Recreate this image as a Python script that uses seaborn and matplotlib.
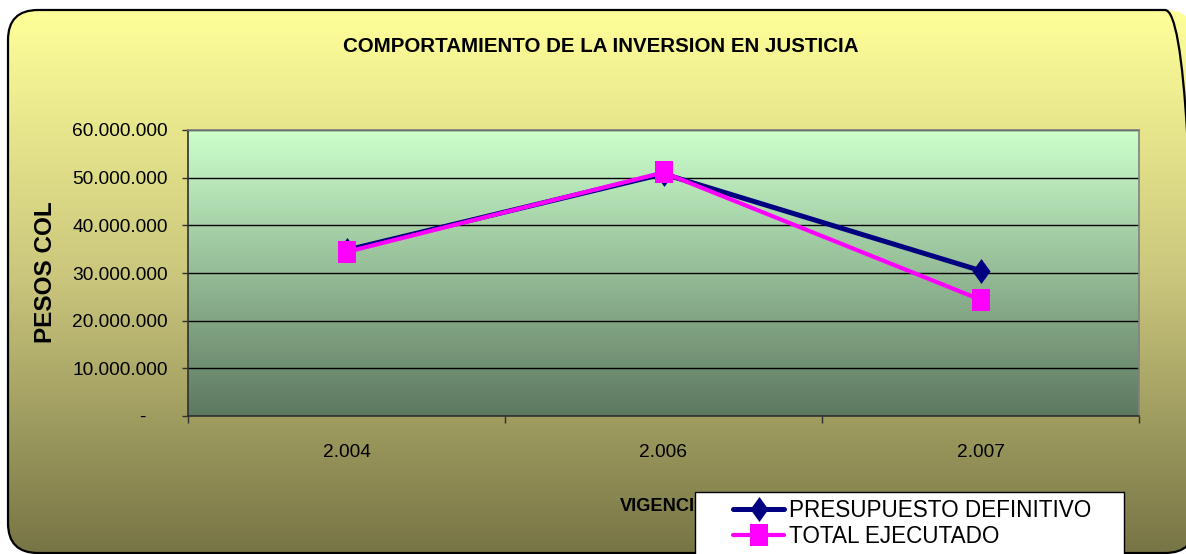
import numpy as np
import pandas as pd
import seaborn as sns
import matplotlib
matplotlib.use("Agg")
from matplotlib import pyplot as plt
from matplotlib import font_manager
from matplotlib.patches import FancyBboxPatch, Rectangle
from matplotlib.colors import LinearSegmentedColormap

# data
years = ['2.004', '2.006', '2.007']
presupuesto = [34800000, 50800000, 30500000]
ejecutado = [34400000, 51100000, 24400000]
y_ticks = [0, 10000000, 20000000, 30000000, 40000000, 50000000, 60000000]
y_tick_labels = ['-    ', '10.000.000', '20.000.000', '30.000.000',
                 '40.000.000', '50.000.000', '60.000.000']

W, H = 1186, 554

# narrow font if available, otherwise regular one scaled down
try:
    font_manager.findfont(font_manager.FontProperties(family='Liberation Sans Narrow'),
                          fallback_to_default=False)
    FONT = 'Liberation Sans Narrow'
    k = 1.0
except Exception:
    FONT = 'Liberation Sans'
    k = 0.82

sns.set_style("white")
plt.rcParams['font.family'] = [FONT, 'DejaVu Sans']
plt.rcParams['text.color'] = 'black'
plt.rcParams['axes.labelcolor'] = 'black'

fig = plt.figure(figsize=(W / 100, H / 100), dpi=100)
fig.patch.set_facecolor('white')

# background: rounded box with yellow -> olive gradient
ax_bg = fig.add_axes([0, 0, 1, 1], zorder=-10)
ax_bg.set_xlim(0, W)
ax_bg.set_ylim(0, H)
ax_bg.axis('off')
bg_cmap = LinearSegmentedColormap.from_list('bg', ['#777545', '#C9C57C', '#FFFF99'])
grad = np.linspace(0, 1, 256).reshape(-1, 1)
im = ax_bg.imshow(grad, cmap=bg_cmap, origin='lower', aspect='auto',
                  extent=(0, W, 1, 544))
box = FancyBboxPatch((8, 1), 1187, 543, boxstyle="round,pad=0,rounding_size=30",
                     facecolor='none', edgecolor='black', linewidth=1.6)
ax_bg.add_patch(box)
im.set_clip_path(box)

# main plot area
ax = fig.add_axes([188 / W, 1 - 416 / H, (1139 - 188) / W, (416 - 130) / H], zorder=1)
ax.set_facecolor('none')
plot_cmap = LinearSegmentedColormap.from_list('pa', ['#5D7860', '#CCFFCC'])
ax.imshow(grad, cmap=plot_cmap, origin='lower', aspect='auto',
          extent=(0, 1, 0, 1), transform=ax.transAxes, zorder=-1)

x = list(range(len(years)))
diamond = [(0, -1), (0.72, 0), (0, 1), (-0.72, 0)]
square = [(-0.78, -1), (0.78, -1), (0.78, 1), (-0.78, 1)]
sns.lineplot(x=x, y=presupuesto, ax=ax, color='#000080', linewidth=3.6,
             marker=diamond, markersize=18, markeredgewidth=0,
             label='PRESUPUESTO DEFINITIVO', sort=False, zorder=3)
sns.lineplot(x=x, y=ejecutado, ax=ax, color='#FF00FF', linewidth=3.0,
             marker=square, markersize=16.5, markeredgewidth=0,
             label='TOTAL EJECUTADO', sort=False, zorder=4)
handles, labels = ax.get_legend_handles_labels()
if ax.get_legend() is not None:
    ax.get_legend().remove()

ax.set_xlim(-0.5, 2.5)
ax.set_ylim(0, 60000000)
ax.set_yticks(y_ticks)
ax.set_yticklabels(y_tick_labels)
ax.set_xticks(x)
ax.set_xticklabels(years)
ax.set_xticks([-0.5, 0.5, 1.5, 2.5], minor=True)
ax.yaxis.grid(True, color='black', linewidth=1.0)
ax.xaxis.grid(False)
ax.tick_params(axis='y', which='major', left=True, length=4, width=1, color='#303030',
               labelcolor='black', pad=10.5, labelsize=16.8 * k)
ax.tick_params(axis='x', which='major', bottom=True, length=0, pad=20,
               labelcolor='black', labelsize=16.8 * k)
ax.tick_params(axis='x', which='minor', bottom=True, length=5, width=1, color='#303030')

for side in ['top', 'right']:
    ax.spines[side].set_color('#808080')
    ax.spines[side].set_linewidth(1.2)
for side in ['left', 'bottom']:
    ax.spines[side].set_color('#303030')
    ax.spines[side].set_linewidth(1.2)

ax.set_xlabel('VIGENCIA', fontsize=16 * k, fontweight='bold', labelpad=27)
fig.text(46 / W, 1 - 272 / H, 'PESOS COL', rotation=90, ha='center', va='center',
         fontsize=17.5, fontweight='bold', family='Liberation Sans')
fig.text(601 / W, 1 - 47 / H, 'COMPORTAMIENTO DE LA INVERSION EN JUSTICIA',
         ha='center', va='center', fontsize=18 * k, fontweight='bold')

# legend box, cut by the bottom edge like in the original
fig.patches.append(Rectangle((695 / W, -0.05), (1124 - 695) / W, 0.05 + 1 - 492 / H,
                             transform=fig.transFigure, facecolor='white',
                             edgecolor='black', linewidth=1.0, zorder=5))
leg = fig.legend(handles, labels, loc='upper left', bbox_to_anchor=(733 / W, 1 - 499 / H),
                 bbox_transform=fig.transFigure, frameon=False, fontsize=19.8 * k,
                 numpoints=1, handlelength=2.28, handletextpad=0.22, borderpad=0,
                 borderaxespad=0, labelspacing=0.15)
leg.set_zorder(6)

fig.savefig('out.png', dpi=100)
